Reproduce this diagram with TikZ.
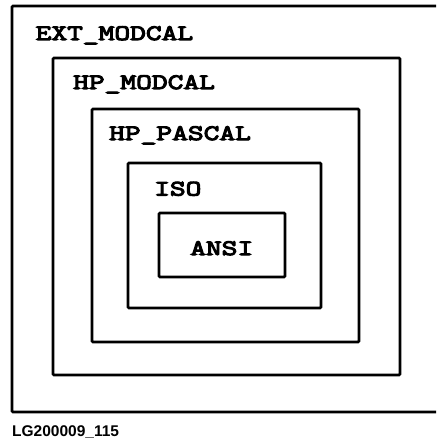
\documentclass[tikz,border=0pt]{standalone}
\usepackage{fontspec}
\newfontfamily\lblfont[FakeStretch=1.39,FakeBold=5]{Latin Modern Mono}
\newfontfamily\capfont{Liberation Sans}
\begin{document}
\begin{tikzpicture}[x=1pt,y=-1pt,
  frame/.style={draw=black,line width=2.6pt,rounded corners=1pt},
  lbl/.style={anchor=base west,inner sep=0pt,font=\lblfont\fontsize{22}{22}\selectfont},
  figcap/.style={anchor=base west,inner sep=0pt,font=\capfont\bfseries\fontsize{15.5}{15.5}\selectfont}]
\clip (0,0) rectangle (436,441);
\fill[white] (0,0) rectangle (436,441);
\draw[frame] (12,6) rectangle (445,412);
\draw[frame] (53,58) rectangle (400,375);
\draw[frame] (92,109) rectangle (359,342);
\draw[frame] (128,163) rectangle (321,308);
\draw[frame] (159,213) rectangle (285,277);
\node[lbl] (ext) at (35.5,40) {EXT\_MODCAL};
\node[lbl] (hpm) at (73,89) {HP\_MODCAL};
\node[lbl] (hpp) at (109,140) {HP\_PASCAL};
\node[lbl] (iso) at (154,195.5) {ISO};
\node[lbl] (ansi) at (190,255) {ANSI};
\node[figcap] (fig) at (12,436.5) {LG200009\_115};
\end{tikzpicture}
\end{document}
